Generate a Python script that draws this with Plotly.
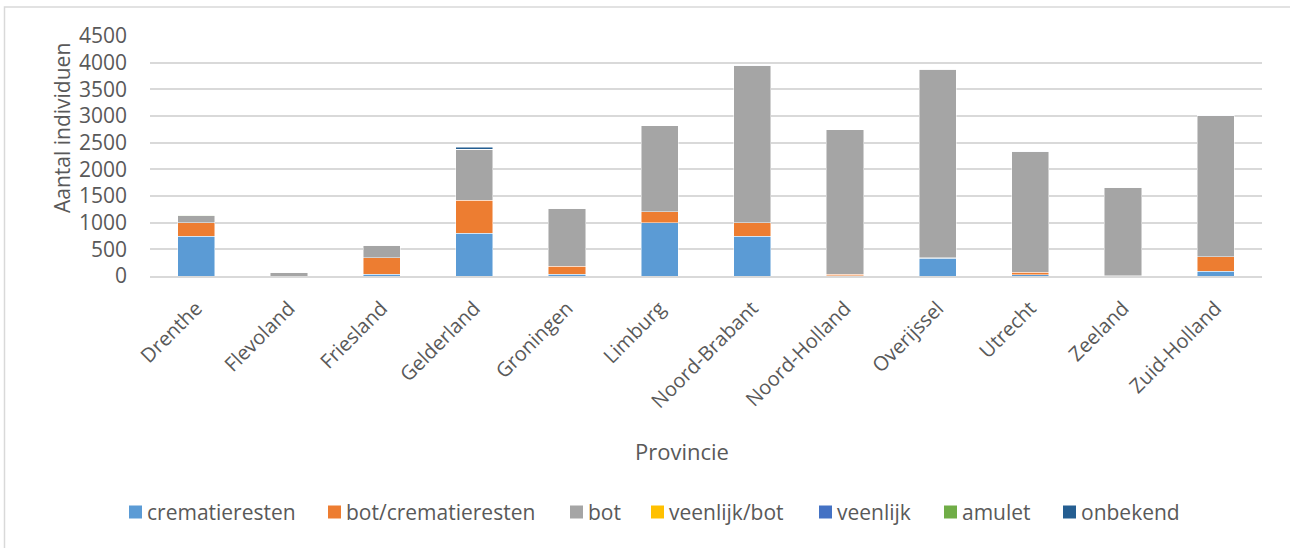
import plotly.graph_objects as go

provincies = ["Drenthe", "Flevoland", "Friesland", "Gelderland", "Groningen", "Limburg",
              "Noord-Brabant", "Noord-Holland", "Overijssel", "Utrecht", "Zeeland", "Zuid-Holland"]

crematieresten     = [750, 0, 30, 805, 30, 995, 750, 5, 330, 25, 5, 85]
bot_crematieresten = [250, 0, 315, 620, 150, 210, 245, 25, 12, 45, 0, 280]
bot                = [130, 75, 230, 955, 1090, 1615, 2950, 2710, 3535, 2260, 1660, 2640]
veenlijk_bot       = [0, 0, 0, 0, 0, 0, 0, 0, 0, 0, 0, 0]
veenlijk           = [0, 0, 0, 0, 0, 0, 5, 5, 5, 5, 0, 10]
amulet             = [12, 0, 15, 0, 0, 0, 0, 0, 0, 0, 0, 0]
onbekend           = [0, 0, 0, 30, 0, 0, 0, 0, 0, 0, 0, 0]

series_names = ["crematieresten", "bot/crematieresten", "bot", "veenlijk/bot",
                "veenlijk", "amulet", "onbekend"]
series_values = [crematieresten, bot_crematieresten, bot, veenlijk_bot,
                 veenlijk, amulet, onbekend]
series_colors = ["#5B9BD5", "#ED7D31", "#A5A5A5", "#FFC000", "#4472C4", "#70AD47", "#255E91"]

y_ticks = [0, 500, 1000, 1500, 2000, 2500, 3000, 3500, 4000, 4500]

FONT = "Open Sans, Liberation Sans, sans-serif"
TXT = "#595959"

W, H = 1290, 548
ML, MR, MT, MB = 150, 28, 36, 272
PW, PH = W - ML - MR, H - MT - MB


def px_x(px):
    return (px - ML) / PW


def px_y(py):
    return (H - MB - py) / PH


fig = go.Figure()
for name, vals, col in zip(series_names, series_values, series_colors):
    fig.add_trace(go.Bar(
        name=name, x=provincies, y=vals, showlegend=False,
        marker=dict(color=col, line=dict(color="rgba(255,255,255,0.6)", width=0.8)),
    ))

fig.update_layout(
    barmode="stack",
    bargap=0.6,
    width=W, height=H,
    margin=dict(l=ML, r=MR, t=MT, b=MB),
    paper_bgcolor="white",
    plot_bgcolor="white",
    font=dict(family=FONT, color=TXT, size=19),
    xaxis=dict(
        tickangle=-45,
        tickfont=dict(size=20, color=TXT),
        showgrid=False,
        showline=True, linecolor="#d9d9d9", linewidth=1.5,
        ticks="outside", ticklen=11, tickcolor="rgba(0,0,0,0)",
    ),
    yaxis=dict(
        range=[0, 4500],
        tickvals=y_ticks,
        tickfont=dict(size=21, color=TXT),
        showgrid=True, gridcolor="#d9d9d9", gridwidth=1.5,
        zeroline=False,
        ticks="",
        ticklabelstandoff=22,
    ),
    showlegend=False,
)

# axis titles
fig.add_annotation(
    text="Aantal individuen", textangle=-90,
    xref="paper", yref="paper", x=px_x(62), y=px_y(128),
    showarrow=False, font=dict(size=21, color=TXT),
    xanchor="center", yanchor="middle",
)
fig.add_annotation(
    text="Provincie",
    xref="paper", yref="paper", x=px_x(682), y=px_y(451),
    showarrow=False, font=dict(size=22, color=TXT),
    xanchor="center", yanchor="middle",
)

# legend row: coloured square followed by the series name
legend_left = [129, 328, 570, 651, 819, 944, 1063]
legend_y = 512
sq = 13
for name, col, lx in zip(series_names, series_colors, legend_left):
    fig.add_shape(type="rect", xref="paper", yref="paper",
                  x0=px_x(lx), x1=px_x(lx + sq),
                  y0=px_y(legend_y + sq / 2), y1=px_y(legend_y - sq / 2),
                  fillcolor=col, line=dict(width=0))
    fig.add_annotation(
        text=name, xref="paper", yref="paper",
        x=px_x(lx + sq + 3), y=px_y(legend_y),
        showarrow=False, font=dict(size=21, color=TXT),
        xanchor="left", yanchor="middle",
    )

# light chart-area border
fig.add_shape(type="rect", xref="paper", yref="paper",
              x0=px_x(4.5), x1=px_x(W + 20), y0=px_y(H + 20), y1=px_y(7),
              line=dict(color="#d9d9d9", width=1.5), layer="below")

fig.write_html("out.html")
